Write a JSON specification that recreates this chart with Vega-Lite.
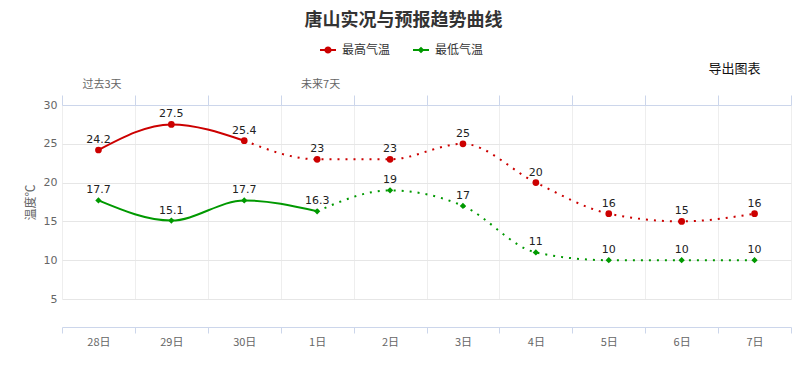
{
  "$schema": "https://vega.github.io/schema/vega-lite/v6.json",
  "width": 729,
  "height": 194,
  "autosize": {"type": "none"},
  "padding": {"left": 62, "top": 105, "right": 15, "bottom": 69},
  "background": "#ffffff",
  "title": {
    "text": "唐山实况与预报趋势曲线",
    "font": "Noto Sans CJK SC",
    "fontSize": 18,
    "fontWeight": "bold",
    "color": "#333333",
    "anchor": "middle",
    "dx": -23,
    "offset": 12
  },
  "config": {
    "view": {"stroke": null},
    "font": "Noto Sans CJK SC"
  },
  "data": {
    "values": [
      {"day": "28日", "i": 0, "type": "最高气温", "temp": 24.2, "split": 2},
      {"day": "29日", "i": 1, "type": "最高气温", "temp": 27.5, "split": 2},
      {"day": "30日", "i": 2, "type": "最高气温", "temp": 25.4, "split": 2},
      {"day": "1日", "i": 3, "type": "最高气温", "temp": 23, "split": 2},
      {"day": "2日", "i": 4, "type": "最高气温", "temp": 23, "split": 2},
      {"day": "3日", "i": 5, "type": "最高气温", "temp": 25, "split": 2},
      {"day": "4日", "i": 6, "type": "最高气温", "temp": 20, "split": 2},
      {"day": "5日", "i": 7, "type": "最高气温", "temp": 16, "split": 2},
      {"day": "6日", "i": 8, "type": "最高气温", "temp": 15, "split": 2},
      {"day": "7日", "i": 9, "type": "最高气温", "temp": 16, "split": 2},
      {"day": "28日", "i": 0, "type": "最低气温", "temp": 17.7, "split": 3},
      {"day": "29日", "i": 1, "type": "最低气温", "temp": 15.1, "split": 3},
      {"day": "30日", "i": 2, "type": "最低气温", "temp": 17.7, "split": 3},
      {"day": "1日", "i": 3, "type": "最低气温", "temp": 16.3, "split": 3},
      {"day": "2日", "i": 4, "type": "最低气温", "temp": 19, "split": 3},
      {"day": "3日", "i": 5, "type": "最低气温", "temp": 17, "split": 3},
      {"day": "4日", "i": 6, "type": "最低气温", "temp": 11, "split": 3},
      {"day": "5日", "i": 7, "type": "最低气温", "temp": 10, "split": 3},
      {"day": "6日", "i": 8, "type": "最低气温", "temp": 10, "split": 3},
      {"day": "7日", "i": 9, "type": "最低气温", "temp": 10, "split": 3}
    ]
  },
  "encoding": {
    "x": {
      "field": "day",
      "type": "ordinal",
      "sort": ["28日", "29日", "30日", "1日", "2日", "3日", "4日", "5日", "6日", "7日"],
      "scale": {"paddingInner": 0, "paddingOuter": 0},
      "axis": null
    },
    "y": {
      "field": "temp",
      "type": "quantitative",
      "scale": {"domain": [5, 30], "nice": false, "zero": false},
      "axis": {
        "values": [5, 10, 15, 20, 25, 30],
        "domain": false,
        "ticks": false,
        "gridColor": "#e6e6e6",
        "labelColor": "#666666",
        "labelFont": "DejaVu Sans",
        "labelFontSize": 11,
        "labelPadding": 5,
        "title": "温度℃",
        "titleColor": "#666666",
        "titleFont": "Noto Sans CJK SC",
        "titleFontSize": 12,
        "titleFontWeight": "normal",
        "titlePadding": 6
      }
    },
    "color": {
      "field": "type",
      "type": "nominal",
      "scale": {"domain": ["最高气温", "最低气温"], "range": ["#cc0000", "#009900"]},
      "legend": {
        "title": null,
        "orient": "none",
        "direction": "horizontal",
        "legendX": 258,
        "legendY": -63,
        "symbolSize": 256,
        "labelFont": "Noto Sans CJK SC",
        "labelFontSize": 12,
        "labelColor": "#333333",
        "labelOffset": 6,
        "columnPadding": 22,
        "encode": {
          "symbols": {
            "update": {
              "shape": {"signal": "datum.value === '最高气温' ? 'M-1,-0.125H1V0.125H-1Z M0.45,0 A0.45,0.45 0 1 1 -0.45,0 A0.45,0.45 0 1 1 0.45,0Z' : 'M-1,-0.125H1V0.125H-1Z M0,-0.42 L0.42,0 L0,0.42 L-0.42,0Z'"},
              "fill": {"signal": "datum.value === '最高气温' ? '#cc0000' : '#009900'"},
              "fillOpacity": {"value": 1},
              "strokeWidth": {"value": 0}
            }
          }
        }
      }
    }
  },
  "layer": [
    {
      "transform": [{"filter": "datum.i <= datum.split"}],
      "mark": {"type": "line", "interpolate": "monotone", "strokeWidth": 2},
      "encoding": {
        "x": {
          "field": "day",
          "type": "ordinal",
          "sort": ["28日", "29日", "30日", "1日", "2日", "3日", "4日", "5日", "6日", "7日"],
          "axis": {
            "orient": "bottom",
            "offset": 28,
            "title": null,
            "tickBand": "extent",
            "grid": false,
            "tickSize": 6,
            "domainColor": "#ccd6eb",
            "tickColor": "#ccd6eb",
            "labelColor": "#666666",
            "labelFont": "Noto Sans CJK SC",
            "labelFontSize": 11,
            "labelPadding": 3,
            "labelAngle": 0
          }
        }
      }
    },
    {
      "transform": [{"filter": "datum.i >= datum.split"}],
      "mark": {"type": "line", "interpolate": "monotone", "strokeWidth": 2, "strokeDash": [2, 6]}
    },
    {
      "transform": [{"filter": "datum.type === '最高气温'"}],
      "mark": {"type": "point", "shape": "circle", "filled": true, "size": 45, "opacity": 1}
    },
    {
      "transform": [{"filter": "datum.type === '最低气温'"}],
      "mark": {"type": "point", "shape": "diamond", "filled": true, "size": 40, "opacity": 1}
    },
    {
      "mark": {"type": "text", "font": "DejaVu Sans", "fontSize": 11, "dy": -10, "color": "#222222"},
      "encoding": {
        "text": {"field": "temp", "type": "quantitative"},
        "color": {"value": "#222222"},
        "x": {
          "field": "day",
          "type": "ordinal",
          "sort": ["28日", "29日", "30日", "1日", "2日", "3日", "4日", "5日", "6日", "7日"],
          "axis": {
            "orient": "top",
            "tickBand": "extent",
            "grid": true,
            "gridColor": "#eeeeee",
            "tickSize": 10,
            "domainColor": "#ccd6eb",
            "tickColor": "#ccd6eb",
            "labelColor": "#666666",
            "labelFont": "Noto Sans CJK SC",
            "labelFontSize": 11,
            "labelPadding": 6,
            "labelOffset": 3,
            "labelAngle": 0,
            "labelExpr": "datum.value === '28日' ? '过去3天' : (datum.value === '1日' ? '未来7天' : '')",
            "title": "导出图表",
            "titleFont": "Noto Sans CJK SC",
            "titleFontSize": 13,
            "titleFontWeight": "normal",
            "titleColor": "#111111",
            "titleAnchor": null,
            "titleAlign": "right",
            "titleBaseline": "middle",
            "titleX": 698,
            "titleY": -37
          }
        }
      }
    }
  ]
}
